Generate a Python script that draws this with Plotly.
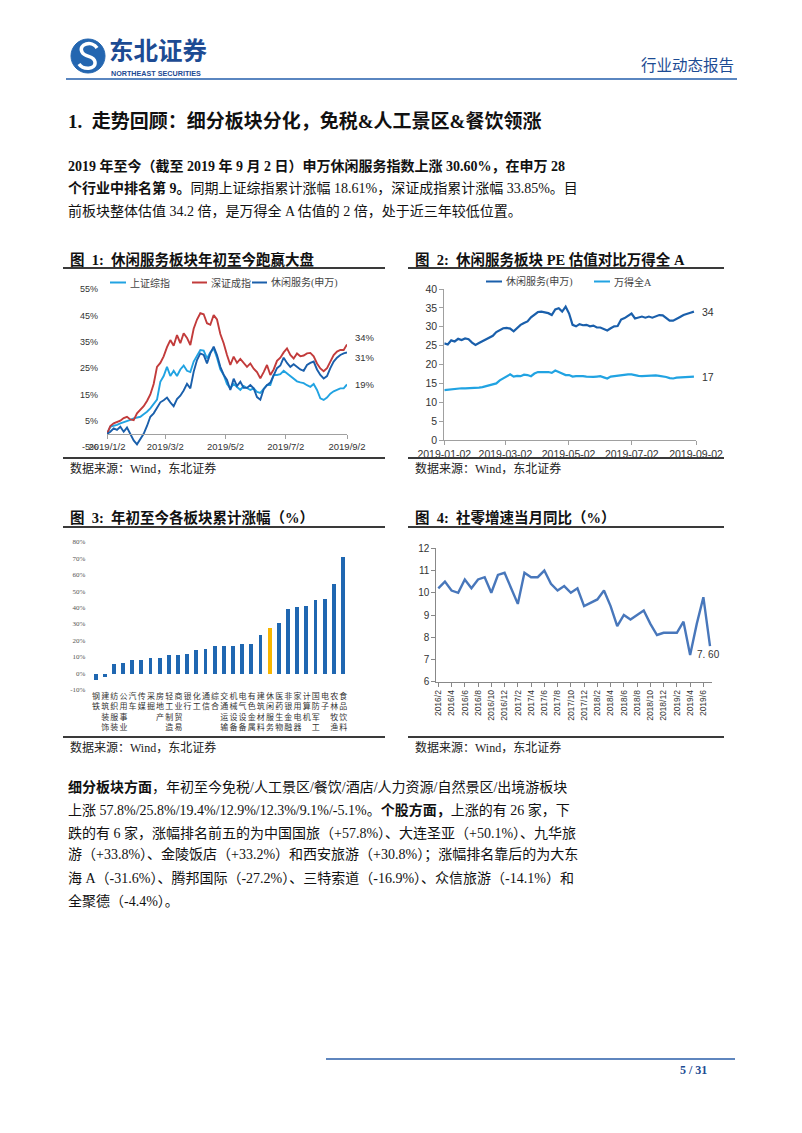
import plotly.graph_objects as go
import pandas as pd

W, H = 802, 1133

# ---------------- data ----------------
# Chart 1: cumulative change since 2019-01-02 (%)
c1_start, c1_end = "2019-01-02", "2019-09-02"
sh_composite = [0, 2.7, 3.1, 3.4, 4.0, 4.4, 4.8, 5.3, 5.9, 6.2, 6.5, 7.5, 8.4, 9.7, 11.6, 13.0,
                19.8, 22.0, 25.5, 22.0, 24.0, 22.0, 24.5, 26.0, 24.0, 23.5, 27.5, 30.0, 31.9, 31.7,
                28.7, 31.0, 32.5, 29.0, 24.5, 22.4, 19.0, 17.3, 19.0, 17.8, 16.7, 18.2, 17.5, 16.7,
                17.3, 16.0, 15.6, 17.0, 18.6, 18.6, 22.4, 22.4, 22.7, 24.0, 23.0, 21.8, 21.0, 20.0,
                19.6, 19.3, 18.5, 17.9, 19.0, 16.7, 13.5, 12.9, 13.8, 15.3, 16.2, 16.7, 17.3, 17.3, 18.8]
sz_component = [0, 3.0, 4.0, 4.6, 5.0, 6.0, 6.5, 5.5, 5.2, 7.8, 9.0, 10.5, 12.5, 15.0, 19.0, 25.5,
                27.0, 29.5, 33.0, 35.7, 33.5, 37.6, 34.5, 38.3, 36.5, 33.8, 40.0, 43.5, 45.9, 45.5,
                42.1, 41.5, 45.2, 43.5, 38.0, 34.5, 30.0, 26.2, 29.4, 27.0, 28.5, 27.0, 25.5, 26.8,
                24.8, 23.5, 21.1, 23.5, 26.2, 22.4, 24.5, 27.8, 29.0, 31.0, 32.5, 30.0, 28.7, 30.6,
                29.5, 29.8, 30.6, 30.8, 29.5, 26.8, 24.9, 23.8, 25.0, 27.5, 30.0, 31.3, 31.9, 31.9, 34.0]
leisure_sw = [0, 0.8, 2.1, 1.5, 2.7, 0.8, 2.4, 0.0, -2.5, -4.0, -2.0, 0.0, 3.0, 6.5, 7.8, 10.0,
              12.0, 12.8, 13.8, 12.0, 10.5, 13.2, 14.5, 16.5, 19.0, 17.3, 23.6, 28.1, 30.6, 30.0,
              26.8, 30.6, 33.2, 30.0, 25.5, 22.5, 20.5, 16.7, 21.0, 18.2, 19.8, 17.5, 17.5, 18.6,
              17.3, 14.0, 13.0, 17.0, 18.5, 19.5, 22.5, 25.0, 26.0, 29.0, 27.0, 25.5, 26.5, 25.5,
              24.5, 24.0, 26.2, 27.0, 27.5, 24.5, 22.4, 21.1, 22.0, 25.0, 27.5, 29.0, 30.0, 30.6, 31.0]
c1_names = ["上证综指", "深证成指", "休闲服务(申万)"]
c1_end_labels = ["19%", "34%", "31%"]
date_ticks = ["2019-01-02", "2019-03-02", "2019-05-02", "2019-07-02", "2019-09-02"]
c1_ticktext = ["2019/1/2", "2019/3/2", "2019/5/2", "2019/7/2", "2019/9/2"]
c1_yticks = [-5, 5, 15, 25, 35, 45, 55]

# Chart 2: PE
c2_start, c2_end = "2019-01-02", "2019-08-31"
pe_leisure = [25.6, 25.3, 26.4, 26.1, 26.8, 26.5, 26.9, 26.7, 25.8, 25.2, 25.7, 26.2, 26.7, 27.3,
              27.6, 28.6, 29.0, 29.6, 29.7, 29.5, 28.8, 29.6, 30.5, 31.0, 31.4, 32.5, 33.1, 33.9,
              34.0, 33.8, 33.6, 33.1, 34.6, 34.9, 34.0, 35.3, 33.5, 30.5, 30.1, 30.7, 30.4, 30.5,
              30.1, 30.3, 29.8, 29.8, 29.4, 29.0, 29.6, 30.1, 30.2, 31.9, 32.3, 32.9, 33.5, 32.2,
              32.4, 32.7, 32.4, 32.7, 32.4, 32.8, 33.1, 33.0, 32.2, 31.6, 31.6, 32.0, 32.6, 33.1,
              33.3, 33.7, 34.0]
pe_wind_a = [13.2, 13.3, 13.5, 13.6, 13.7, 13.7, 13.7, 13.7, 13.7, 13.8, 13.9, 14.0, 14.2, 14.4,
             14.7, 15.0, 15.8, 16.3, 17.0, 17.4, 16.8, 17.0, 16.9, 17.3, 17.2, 16.9, 17.6, 18.0,
             18.0, 18.0, 18.0, 17.8, 18.4, 18.0, 17.6, 17.2, 17.2, 16.8, 16.9, 17.0, 16.9, 16.8,
             16.7, 16.7, 16.8, 16.9, 16.6, 16.3, 16.8, 16.9, 17.1, 17.3, 17.3, 17.4, 17.4, 17.1,
             17.0, 16.9, 17.0, 17.0, 17.1, 17.1, 17.0, 16.9, 16.7, 16.4, 16.3, 16.5, 16.6, 16.7,
             16.8, 16.8, 16.8]
c2_names = ["休闲服务(申万)", "万得全A"]
c2_end_labels = ["34", "17"]

# Chart 3: YTD change by SW industry (%)
industries = ["钢铁", "建筑装饰", "纺织服装", "公用事业", "汽车", "传媒", "采掘", "房地产",
              "轻工制造", "商业贸易", "银行", "化工", "通信", "综合", "交通运输", "机械设备",
              "电气设备", "有色金属", "建筑材料", "休闲服务", "医药生物", "非银金融", "家用电器",
              "计算机", "国防军工", "电子", "农林牧渔", "食品饮料"]
ytd_change = [-4.0, -2.0, 6.1, 6.5, 8.1, 8.5, 9.7, 9.7, 11.1, 11.5, 12.1, 14.2, 14.8, 16.6,
              16.8, 17.0, 17.8, 17.8, 23.7, 27.9, 31.0, 39.5, 40.5, 40.9, 44.5, 45.1, 54.3, 70.6]
highlight = "休闲服务"
c3_yticks = [-10, 0, 10, 20, 30, 40, 50, 60, 70, 80]

# Chart 4: retail sales YoY (%)
months = ["2016/2", "2016/3", "2016/4", "2016/5", "2016/6", "2016/7", "2016/8", "2016/9",
          "2016/10", "2016/11", "2016/12", "2017/1", "2017/2", "2017/3", "2017/4", "2017/5",
          "2017/6", "2017/7", "2017/8", "2017/9", "2017/10", "2017/11", "2017/12", "2018/1",
          "2018/2", "2018/3", "2018/4", "2018/5", "2018/6", "2018/7", "2018/8", "2018/9",
          "2018/10", "2018/11", "2018/12", "2019/1", "2019/2", "2019/3", "2019/4", "2019/5",
          "2019/6", "2019/7"]
retail_yoy = [10.2, 10.5, 10.1, 10.0, 10.6, 10.2, 10.6, 10.7, 10.0, 10.8, 10.9, None, 9.5, 10.9,
              10.7, 10.7, 11.0, 10.4, 10.1, 10.3, 10.0, 10.2, 9.4, None, 9.7, 10.1, 9.4, 8.5,
              9.0, 8.8, 9.0, 9.2, 8.6, 8.1, 8.2, None, 8.2, 8.7, 7.2, 8.6, 9.8, 7.6]
c4_ticks = ["2016/2", "2016/4", "2016/6", "2016/8", "2016/10", "2016/12", "2017/2", "2017/4",
            "2017/6", "2017/8", "2017/10", "2017/12", "2018/2", "2018/4", "2018/6", "2018/8",
            "2018/10", "2018/12", "2019/2", "2019/4", "2019/6"]

# ---------------- styling ----------------
SERIF = "Liberation Serif, Noto Sans CJK SC"
SANS = "Liberation Sans, Noto Sans CJK SC"
CJK = "Noto Sans CJK SC"
C_LB = "#21a3e2"
C_RED = "#c23b3b"
C_DB = "#1a5fab"
C_BAR = "#1f67b1"
C_HL = "#f8b600"
C_L4 = "#4877bb"
NAVY = "#1d4b93"
AX = "#a0a0a0"
TXT = "#333333"


def fx(px):
    return px / W


def fy(py):
    return 1 - py / H


fig = go.Figure()

# Chart 1
c1_dates = pd.date_range(c1_start, c1_end, periods=len(sh_composite))
c1_series = [sh_composite, sz_component, leisure_sw]
c1_colors = [C_LB, C_RED, C_DB]
for ser, col in zip(c1_series, c1_colors):
    fig.add_trace(go.Scatter(x=c1_dates, y=ser, mode="lines", line=dict(color=col, width=1.9),
                             xaxis="x", yaxis="y", showlegend=False, hoverinfo="skip"))

# Chart 2
c2_dates = pd.date_range(c2_start, c2_end, periods=len(pe_leisure))
for ser, col in zip([pe_leisure, pe_wind_a], [C_DB, C_LB]):
    fig.add_trace(go.Scatter(x=c2_dates, y=ser, mode="lines", line=dict(color=col, width=2.2),
                             xaxis="x2", yaxis="y2", showlegend=False, hoverinfo="skip"))

# Chart 3
bar_colors = [C_HL if n == highlight else C_BAR for n in industries]
fig.add_trace(go.Bar(x=industries, y=ytd_change, marker=dict(color=bar_colors, line=dict(width=0)),
                     width=0.42, xaxis="x3", yaxis="y3", showlegend=False, hoverinfo="skip"))

# Chart 4
fig.add_trace(go.Scatter(x=months, y=retail_yoy, mode="lines", connectgaps=True,
                         line=dict(color=C_L4, width=2.4), xaxis="x4", yaxis="y4",
                         showlegend=False, hoverinfo="skip"))

ann = []
shapes = []


def text(px, py, s, size, color="#1a1a1a", family=SERIF, xanchor="left"):
    ann.append(dict(x=fx(px), y=fy(py), xref="paper", yref="paper", text=s, showarrow=False,
                    xanchor=xanchor, yanchor="middle",
                    font=dict(size=size, color=color, family=family)))


def hline(x0, x1, y, color, width):
    shapes.append(dict(type="line", xref="paper", yref="paper", x0=fx(x0), x1=fx(x1),
                       y0=fy(y), y1=fy(y), line=dict(color=color, width=width)))


# ---- header
shapes.append(dict(type="circle", xref="paper", yref="paper", x0=fx(71), x1=fx(105),
                   y0=fy(73), y1=fy(39), fillcolor="#2466b0", line=dict(color="#2466b0", width=1)))
pts = [(97, 48), (92, 40), (78, 44), (82, 52), (85, 58), (94, 55), (95, 62), (96, 70), (83, 70), (79, 64)]
p = [f"{fx(a):.5f},{fy(b):.5f}" for a, b in pts]
path = f"M {p[0]} C {p[1]} {p[2]} {p[3]} C {p[4]} {p[5]} {p[6]} C {p[7]} {p[8]} {p[9]}"
shapes.append(dict(type="path", xref="paper", yref="paper", path=path,
                   line=dict(color="white", width=3.5)))
text(107, 49.5, "<b>东北证券</b>", 24.5, NAVY, CJK)
text(109, 73, "<b>NORTHEAST SECURITIES</b>", 7.2, NAVY, SANS)
text(736, 64, "行业动态报告", 15.5, NAVY, CJK, "right")
hline(66, 737, 79, "#5a86c0", 2)

# ---- heading and paragraph 1
text(66, 121, "<b>1.  走势回顾：细分板块分化，免税&人工景区&餐饮领涨</b>", 19, "#111", SERIF)
para1 = [
    "<b>2019 年至今（截至 2019 年 9 月 2 日）申万休闲服务指数上涨 30.60%，在申万 28</b>",
    "<b>个行业中排名第 9。</b>同期上证综指累计涨幅 18.61%，深证成指累计涨幅 33.85%。目",
    "前板块整体估值 34.2 倍，是万得全 A 估值的 2 倍，处于近三年较低位置。",
]
for i, line in enumerate(para1):
    text(66, 166 + i * 22.5, line, 14, "#111", SERIF)

# ---- chart titles / rules / sources
text(68, 259, "<b>图  1:  休闲服务板块年初至今跑赢大盘</b>", 14.5, "#111", SERIF)
text(413, 259, "<b>图  2:  休闲服务板块 PE 估值对比万得全 A</b>", 14.5, "#111", SERIF)
text(68, 517, "<b>图  3:  年初至今各板块累计涨幅（%）</b>", 14.5, "#111", SERIF)
text(413, 517, "<b>图  4:  社零增速当月同比（%）</b>", 14.5, "#111", SERIF)
for (x0, x1) in [(63, 385), (408, 724)]:
    hline(x0, x1, 268, "#3a3a3a", 2)
    hline(x0, x1, 458, "#3a3a3a", 2)
    hline(x0, x1, 527, "#3a3a3a", 2)
    hline(x0, x1, 737, "#3a3a3a", 2)
for (x, y) in [(68, 468), (413, 468), (68, 747), (413, 747)]:
    text(x, y, "数据来源：Wind，东北证券", 12, "#222", SERIF)

# ---- chart 1 legend
leg1 = [(110, 126, 128), (192, 207, 209), (252, 267, 269)]
for (a, b, t), nm, col in zip(leg1, c1_names, c1_colors):
    hline(a, b, 282.5, col, 2)
    text(t, 282.5, nm, 10, "#444", SERIF)
# ---- chart 2 legend
leg2 = [(486, 502, 504), (594, 610, 612)]
for (a, b, t), nm, col in zip(leg2, c2_names, [C_DB, C_LB]):
    hline(a, b, 281.5, col, 2)
    text(t, 281.5, nm, 10, "#444", SERIF)

# ---- end labels tied to the data
for ser, lab, ysh in zip(c1_series, c1_end_labels, [0, 7, -5]):
    ann.append(dict(x=c1_dates[-1], y=ser[-1], xref="x", yref="y", text=lab, showarrow=False,
                    xanchor="left", yanchor="middle", xshift=6, yshift=ysh,
                    font=dict(size=9.5, color=TXT, family=SANS)))
for ser, lab in zip([pe_leisure, pe_wind_a], c2_end_labels):
    ann.append(dict(x=c2_dates[-1], y=ser[-1], xref="x2", yref="y2", text=lab, showarrow=False,
                    xanchor="left", yanchor="middle", xshift=6,
                    font=dict(size=10.5, color=TXT, family=SANS)))
ann.append(dict(x=months[-1], y=retail_yoy[-1], xref="x4", yref="y4", text="7. 60",
                showarrow=False, xanchor="center", yanchor="middle", xshift=-2, yshift=-8,
                font=dict(size=10, color=TXT, family=SANS)))

# ---- paragraph 2
para2 = [
    "<b>细分板块方面</b>，年初至今免税/人工景区/餐饮/酒店/人力资源/自然景区/出境游板块",
    "上涨 57.8%/25.8%/19.4%/12.9%/12.3%/9.1%/-5.1%。<b>个股方面，</b>上涨的有 26 家，下",
    "跌的有 6 家，涨幅排名前五的为中国国旅（+57.8%）、大连圣亚（+50.1%）、九华旅",
    "游（+33.8%）、金陵饭店（+33.2%）和西安旅游（+30.8%）；涨幅排名靠后的为大东",
    "海 A（-31.6%）、腾邦国际（-27.2%）、三特索道（-16.9%）、众信旅游（-14.1%）和",
    "全聚德（-4.4%）。",
]
for i, line in enumerate(para2):
    text(66, 787 + i * 22.8, line, 14, "#111", SERIF)

# ---- footer
hline(326, 735, 1059, "#2a5ea8", 1.5)
text(693, 1070, "<b>5 / 31</b>", 12, NAVY, "Liberation Serif", "center")

tf_sans = lambda s: dict(family=SANS, size=s, color=TXT)

fig.update_layout(
    width=W, height=H, margin=dict(l=0, r=0, t=0, b=0, pad=0, autoexpand=False),
    paper_bgcolor="white", plot_bgcolor="rgba(0,0,0,0)",
    annotations=ann, shapes=shapes, bargap=0, showlegend=False,
    xaxis=dict(domain=[fx(107), fx(347)], type="date", range=[c1_start, c1_end],
               anchor="free", position=fy(433.8), tickmode="array", tickvals=date_ticks,
               ticktext=c1_ticktext, showline=True, linecolor=AX, linewidth=1, ticks="outside",
               ticklen=4, tickcolor=AX, showgrid=False, zeroline=False, tickfont=tf_sans(9.5),
               automargin=False),
    yaxis=dict(domain=[fy(447), fy(289.3)], range=[-5, 55], anchor="x", tickmode="array",
               tickvals=c1_yticks, ticktext=[f"{v}%" for v in c1_yticks], showline=False,
               ticks="", showgrid=False, zeroline=False, ticklabelstandoff=8,
               tickfont=tf_sans(9), automargin=False),
    xaxis2=dict(domain=[fx(444.3), fx(696)], type="date", range=[c1_start, c1_end],
                anchor="y2", tickmode="array", tickvals=date_ticks, ticktext=date_ticks,
                showline=True, linecolor=AX, linewidth=1, ticks="outside", ticklen=4,
                tickcolor=AX, showgrid=False, zeroline=False, tickfont=tf_sans(10.5),
                automargin=False),
    yaxis2=dict(domain=[fy(440), fy(289)], range=[0, 40], dtick=5, anchor="x2",
                showline=True, linecolor=AX, linewidth=1, ticks="outside", ticklen=4,
                tickcolor=AX, showgrid=False, zeroline=False, tickfont=tf_sans(10.5),
                automargin=False),
    xaxis3=dict(domain=[fx(91.4), fx(347.9)], type="category", range=[-0.5, 27.5],
                anchor="y3", tickmode="array", tickvals=industries,
                ticktext=["<br>".join(n) for n in industries], tickangle=0, ticks="",
                showline=False, showgrid=False, zeroline=False,
                tickfont=dict(family=SERIF, size=8, color=TXT), automargin=False),
    yaxis3=dict(domain=[fy(689.8), fy(541.7)], range=[-10, 80], anchor="x3", tickmode="array",
                tickvals=c3_yticks, ticktext=[f"{v}%" for v in c3_yticks], showline=False,
                ticks="", showgrid=False, zeroline=False, ticklabelstandoff=5,
                tickfont=dict(family=SERIF, size=7, color="#555"), automargin=False),
    xaxis4=dict(domain=[fx(436.3), fx(712)], type="category", range=[-0.3, 41.3],
                anchor="y4", tickmode="array", tickvals=c4_ticks, ticktext=c4_ticks,
                tickangle=-90, showline=True, linecolor="#888", linewidth=1, ticks="outside",
                ticklen=4, tickcolor="#888", showgrid=False, zeroline=False,
                tickfont=tf_sans(8.5), automargin=False),
    yaxis4=dict(domain=[fy(681.7), fy(548.3)], range=[6, 12], dtick=1, anchor="x4",
                showline=True, linecolor="#888", linewidth=1, ticks="outside", ticklen=4,
                tickcolor="#888", showgrid=False, zeroline=False, tickfont=tf_sans(10),
                automargin=False),
)

fig.write_html("out.html", config={"displayModeBar": False},
               post_script="document.body.style.margin='0';document.body.style.overflow='hidden';")
